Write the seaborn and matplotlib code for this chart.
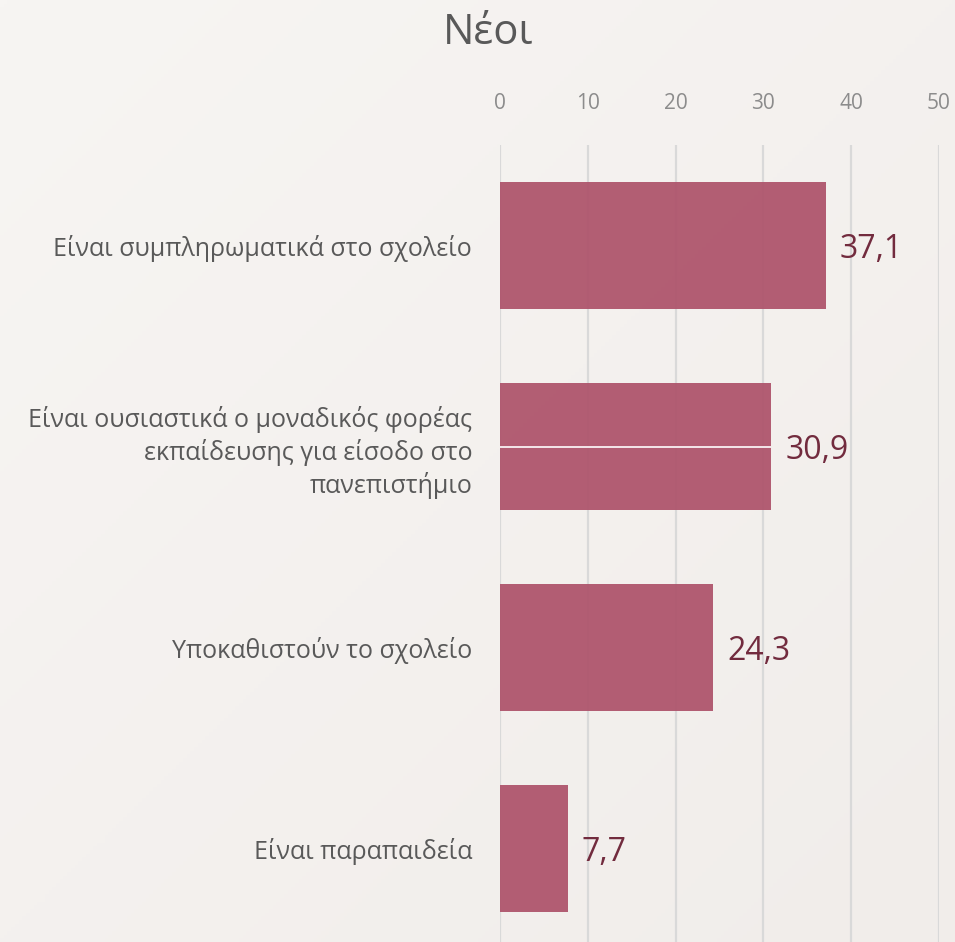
import matplotlib
matplotlib.use("Agg")
import matplotlib.pyplot as plt
import seaborn as sns
import pandas as pd
import numpy as np
from matplotlib.colors import LinearSegmentedColormap

categories = [
    "Είναι συμπληρωματικά στο σχολείο",
    "Είναι ουσιαστικά ο μοναδικός φορέας\nεκπαίδευσης για είσοδο στο\nπανεπιστήμιο",
    "Υποκαθιστούν το σχολείο",
    "Είναι παραπαιδεία",
]
values = [37.1, 30.9, 24.3, 7.7]
value_labels = ["37,1", "30,9", "24,3", "7,7"]
x_ticks = [0, 10, 20, 30, 40, 50]
title = "Νέοι"

sns.set_theme(style="white")
plt.rcParams['font.family'] = ['Open Sans', 'DejaVu Sans']

df = pd.DataFrame({"category": categories, "value": values})

fig = plt.figure(figsize=(9.55, 9.42), dpi=100)
# background gradient
bg = fig.add_axes([0, 0, 1, 1], zorder=-10)
grad = np.linspace(0, 1, 256).reshape(1, -1)
cmap = LinearSegmentedColormap.from_list("bg", ["#F7F5F3", "#F1EDEA"])
bg.imshow(np.tile(grad, (256, 1)) * 0.5 + np.tile(grad.T, (1, 256)) * 0.5, cmap=cmap,
          aspect="auto", extent=[0, 1, 0, 1])
bg.axis("off")

ax = fig.add_axes([500/955, 0, 439/955, (942-145)/942])
ax.set_facecolor("none")

sns.barplot(data=df, x="value", y="category", color="#AD5169", alpha=0.92,
            width=0.63, ax=ax, saturation=1, zorder=3, linewidth=0, edgecolor="none")

ax.set_xlim(0, 50)
ax.set_ylim(3.465, -0.5)
ax.set_xticks(x_ticks)
ax.xaxis.tick_top()
ax.tick_params(axis="x", length=0, pad=22, labelsize=15, labelcolor="#8C8C8C")
ax.tick_params(axis="y", length=0, pad=20, labelsize=18, labelcolor="#595959")
for t in ax.get_yticklabels():
    t.set_linespacing(1.28)
ax.set_xlabel("")
ax.set_ylabel("")
for s in ax.spines.values():
    s.set_visible(False)
ax.grid(axis="x", color="#D9D9D9", linewidth=1.6, zorder=0)
ax.set_axisbelow(True)

# white line across second bar
ax.hlines(1, 0, values[1], color="white", linewidth=1.2, zorder=4)

for i, (v, lab) in enumerate(zip(values, value_labels)):
    ax.annotate(lab, (v, i), xytext=(10, 0), textcoords="offset points",
                ha="left", va="center_baseline", fontsize=23, color="#722B3E")

fig.text(488/955, 1 - 33/942, title, ha="center", va="center", fontsize=30, color="#595959")

fig.savefig("out.png", dpi=100)
